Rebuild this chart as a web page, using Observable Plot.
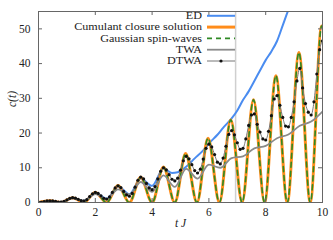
<!DOCTYPE html>
<html><head><meta charset="utf-8">
<script src="https://cdn.jsdelivr.net/npm/d3@7"></script>
<script src="https://cdn.jsdelivr.net/npm/@observablehq/plot@0.6"></script>
<style>
body{margin:0;background:#fff;}
#wrap{position:relative;width:333px;height:240px;font-family:"Liberation Serif",serif;color:#222;}
#wrap > svg{display:block;}
#legend{position:absolute;left:0;top:0;}
</style></head><body><div id="wrap"></div>
<script>
// ticks
const ticksX = [0, 2, 4, 6, 8, 10];
const ticksY = [0, 10, 20, 30, 40, 50];
const markT = 6.94;
const legendNames = ["ED", "Cumulant closure solution", "Gaussian spin-waves", "TWA", "DTWA"];

// ED (exact diagonalization)
const edT = [0, 0.4, 0.8, 1.2, 1.6, 2.0, 2.4, 2.8, 3.2, 3.6, 4.0, 4.4, 4.7, 4.9, 5.2, 5.5, 5.8, 6.0, 6.3, 6.5, 6.8, 7.0, 7.2, 7.4, 7.6, 7.8, 8.0, 8.2, 8.4, 8.6, 8.8, 8.9];
const edV = [0, 0.5, 0.1, 1.4, 0.4, 2.9, 1.1, 4.7, 2.4, 6.9, 4.8, 9.8, 8.5, 8.7, 10.3, 12.7, 15.0, 17.0, 19.5, 21.5, 24.2, 26.5, 29.5, 32.0, 35.0, 38.0, 41.0, 43.5, 46.5, 51.0, 55.5, 57.5];

// Cumulant closure solution (= Gaussian spin-waves)
const cumT = [0, 0.4, 0.8, 1.2, 1.6, 2.0, 2.4, 2.8, 3.2, 3.6, 4.0, 4.4, 4.8, 5.18, 5.58, 5.97, 6.37, 6.77, 7.17, 7.57, 7.96, 8.36, 8.76, 9.17, 9.57, 9.97, 10.0];
const cumV = [0, 0.5, 0, 1.4, 0, 2.9, 0, 4.9, 0, 7.3, 0, 10.2, 0, 14.1, 0, 18.5, 0, 23.8, 0, 29.6, 0, 36.5, 0, 43.2, 0, 50.8, 50.7];
const gswT = cumT;
const gswV = cumV;

// TWA
const twaT = [0, 0.4, 0.8, 1.2, 1.6, 2.0, 2.4, 2.8, 3.2, 3.6, 4.0, 4.4, 4.8, 5.2, 5.6, 6.0, 6.4, 6.8, 7.2, 7.6, 8.0, 8.4, 8.8, 9.2, 9.6, 10.0];
const twaV = [0, 0.45, 0.1, 1.2, 0.4, 2.4, 1.0, 3.8, 2.3, 5.9, 3.1, 7.8, 4.5, 9.7, 6.9, 10.9, 10.0, 12.8, 13.3, 15.6, 16.3, 18.5, 19.6, 22.1, 23.3, 26.2];

// DTWA, sampled every 0.1
const dtwaT = d3.range(101).map(i => i / 10);
const dtwaV = [0, 0.05, 0.25, 0.45, 0.5, 0.45, 0.3, 0.15, 0.1, 0.3,
  0.75, 1.2, 1.4, 1.25, 0.9, 0.55, 0.45, 0.8, 1.7, 2.5,
  2.9, 2.6, 1.9, 1.2, 1.0, 1.6, 2.9, 4.2, 4.8, 4.3,
  3.2, 2.2, 1.8, 2.6, 4.4, 6.4, 7.3, 6.8, 5.5, 4.2,
  3.7, 4.6, 6.8, 9.0, 10.0, 9.4, 8.0, 6.7, 6.2, 7.0,
  9.3, 12.0, 13.3, 12.6, 10.9, 9.2, 8.5, 9.6, 12.5, 15.6,
  16.8, 16.0, 13.8, 11.6, 11.1, 12.8, 16.2, 19.6, 20.7, 19.5,
  17.2, 15.3, 15.6, 18.3, 22.2, 25.2, 25.5, 22.5, 20.3, 18.3,
  18.0, 20.5, 25.0, 29.8, 30.8, 28.0, 24.5, 22.0, 21.8, 24.5,
  29.0, 35.0, 38.6, 33.0, 28.5, 26.0, 25.2, 29.0, 37.0, 44.0,
  46.5];

const zip = (T, V) => T.map((t, i) => ({t, v: V[i]}));
const ed = zip(edT, edV), cum = zip(cumT, cumV), gsw = zip(gswT, gswV), twa = zip(twaT, twaV), dtwa = zip(dtwaT, dtwaV);

const C = {ed: "#4a8cf0", cum: "#ff8c1a", gsw: "#2f8a24", twa: "#8a8a8a", dtwaLine: "#777", dot: "#111", frame: "#666"};
const W = 333, H = 240, mL = 38, mR = 11, mT = 11, mB = 38;
const innerW = W - mL - mR, innerH = H - mT - mB;

const plot = Plot.plot({
  width: W, height: H, marginLeft: mL, marginRight: mR, marginTop: mT, marginBottom: mB,
  x: {domain: [0, 10]}, y: {domain: [0, 55]},
  style: {fontFamily: "'Liberation Serif', serif", fontSize: "11px", color: "#222", background: "#fff"},
  marks: [
    Plot.ruleX([markT], {stroke: "#cfcfcf", strokeWidth: 1.5}),
    Plot.line(ed, {x: "t", y: "v", stroke: C.ed, strokeWidth: 2, curve: "monotone-x", clip: true}),
    Plot.line(cum, {x: "t", y: "v", stroke: C.cum, strokeWidth: 3, curve: "monotone-x", clip: true}),
    Plot.line(gsw, {x: "t", y: "v", stroke: C.gsw, strokeWidth: 1.6, strokeDasharray: "5,4", curve: "monotone-x", clip: true}),
    Plot.line(twa, {x: "t", y: "v", stroke: C.twa, strokeWidth: 1.8, curve: "monotone-x", clip: true}),
    Plot.line(dtwa, {x: "t", y: "v", stroke: C.dtwaLine, strokeWidth: 1, curve: "monotone-x", clip: true}),
    Plot.dot(dtwa, {x: "t", y: "v", r: 1.6, fill: C.dot, stroke: "none", clip: true}),
    Plot.frame({stroke: C.frame}),
    Plot.tickX(ticksX, {x: d => d, insetTop: innerH - 4, stroke: C.frame}),
    Plot.tickX(ticksX, {x: d => d, insetBottom: innerH - 4, stroke: C.frame}),
    Plot.tickY(ticksY, {y: d => d, insetRight: innerW - 4, stroke: C.frame}),
    Plot.tickY(ticksY, {y: d => d, insetLeft: innerW - 4, stroke: C.frame}),
    Plot.axisX(ticksX, {tickSize: 0, tickPadding: 5, label: null, fontSize: 11.5}),
    Plot.axisY(ticksY, {tickSize: 0, tickPadding: 8, label: null, fontSize: 11.5}),
    Plot.text(["t J"], {text: d => d, frameAnchor: "bottom", dy: 24, fontStyle: "italic", fontSize: 11.5}),
    Plot.text(["c(t)"], {text: d => d, frameAnchor: "left", dx: -26, rotate: -90, fontStyle: "italic", fontSize: 11.5})
  ]
});
const wrap = document.getElementById("wrap");
wrap.appendChild(plot);

// legend: labels (slightly widened serif) plus line samples
const rowY = i => 15.8 + i * 11.3;
const samples = [
  y => `<line x1="207" y1="${y}" x2="235" y2="${y}" stroke="${C.ed}" stroke-width="2"/>`,
  y => `<line x1="207" y1="${y}" x2="235" y2="${y}" stroke="${C.cum}" stroke-width="3"/>`,
  y => `<line x1="207" y1="${y}" x2="235" y2="${y}" stroke="${C.gsw}" stroke-width="1.6" stroke-dasharray="5,4"/>`,
  y => `<line x1="207" y1="${y}" x2="235" y2="${y}" stroke="${C.twa}" stroke-width="1.8"/>`,
  y => `<line x1="207" y1="${y}" x2="235" y2="${y}" stroke="${C.dtwaLine}" stroke-width="1"/><circle cx="221" cy="${y}" r="1.6" fill="${C.dot}"/>`
];
const labels = legendNames.map((n, i) =>
  `<text x="202" y="${(rowY(i) + 3.4).toFixed(1)}" text-anchor="end" transform="translate(202,0) scale(1.2,1) translate(-202,0)" font-family="'Liberation Serif', serif" font-size="10.1" fill="#222">${n}</text>`).join("");
const lg = `<svg id="legend" width="333" height="80" xmlns="http://www.w3.org/2000/svg">
  ${legendNames.map((n, i) => samples[i](rowY(i))).join("")}
  ${labels}
</svg>`;
wrap.insertAdjacentHTML("beforeend", lg);
</script></body></html>
